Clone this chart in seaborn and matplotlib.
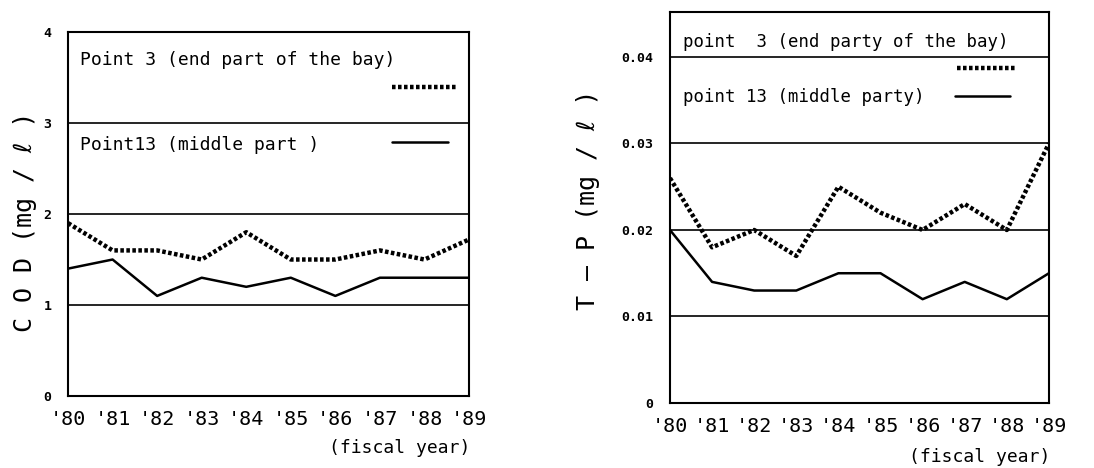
import numpy as np
import pandas as pd
import seaborn as sns
import matplotlib.pyplot as plt
from matplotlib.lines import Line2D

# data
years = ["'80", "'81", "'82", "'83", "'84", "'85", "'86", "'87", "'88", "'89"]
cod_point3 = [1.9, 1.6, 1.6, 1.5, 1.8, 1.5, 1.5, 1.6, 1.5, 1.72]
cod_point13 = [1.4, 1.5, 1.1, 1.3, 1.2, 1.3, 1.1, 1.3, 1.3, 1.3]
tp_point3 = [0.026, 0.018, 0.020, 0.017, 0.025, 0.022, 0.020, 0.023, 0.020, 0.030]
tp_point13 = [0.020, 0.014, 0.013, 0.013, 0.015, 0.015, 0.012, 0.014, 0.012, 0.015]

cod_ticks = [0, 1, 2, 3, 4]
tp_ticks = [0, 0.01, 0.02, 0.03, 0.04]
tp_ticklabels = ['0', '0.01', '0.02', '0.03', '0.04']

sns.set_style("white")
MONO = ['DejaVu Sans Mono', 'DejaVu Sans']
plt.rcParams['font.family'] = MONO
plt.rcParams['text.color'] = 'black'
plt.rcParams['xtick.color'] = 'black'
plt.rcParams['ytick.color'] = 'black'


def long_frame(p3, p13):
    x = np.arange(len(years))
    df = pd.DataFrame({
        'x': np.concatenate([x, x]),
        'value': p3 + p13,
        'series': ['p3'] * len(p3) + ['p13'] * len(p13),
    })
    return df


def draw(ax, df, ylim, ticks, ticklabels, grid_vals):
    sns.lineplot(data=df, x='x', y='value', hue='series', style='series',
                 palette={'p3': 'black', 'p13': 'black'},
                 dashes={'p3': (0.8, 0.55), 'p13': ''},
                 size='series', sizes={'p3': 3.2, 'p13': 1.8},
                 legend=False, ax=ax)
    for g in grid_vals:
        ax.axhline(g, color='black', lw=1.2, zorder=0)
    ax.set_xlim(0, len(years) - 1)
    ax.set_ylim(*ylim)
    ax.set_xticks(range(len(years)))
    ax.set_xticklabels(years, fontsize=14.5, family=MONO)
    ax.set_yticks(ticks)
    ax.set_yticklabels(ticklabels, fontsize=9.5, fontweight='bold', family=MONO)
    ax.tick_params(length=0, axis='x', pad=10)
    ax.tick_params(length=0, axis='y', pad=12)
    ax.set_xlabel('')
    ax.set_ylabel('')
    for s in ax.spines.values():
        s.set_color('black')
        s.set_linewidth(1.5)


def legend_key(ax, x0, x1, y, dotted):
    if dotted:
        ln = Line2D([x0, x1], [y, y], transform=ax.transAxes, color='black',
                    lw=3.2, dashes=(0.8, 0.55))
    else:
        ln = Line2D([x0, x1], [y, y], transform=ax.transAxes, color='black', lw=1.8)
    ax.add_line(ln)


fig = plt.figure(figsize=(10.94, 4.68), dpi=100)
ax1 = fig.add_axes([0.0622, 0.1538, 0.3665, 0.7778])
ax2 = fig.add_axes([0.6124, 0.1389, 0.3464, 0.8355])

# COD panel
draw(ax1, long_frame(cod_point3, cod_point13), (0, 4), cod_ticks,
     [str(t) for t in cod_ticks], [1, 2, 3])
ax1.text(0.03, 0.923, 'Point 3 (end part of the bay)', transform=ax1.transAxes,
         fontsize=13, va='center', family=MONO)
legend_key(ax1, 0.808, 0.968, 0.849, True)
ax1.text(0.03, 0.69, 'Point13 (middle part )', transform=ax1.transAxes,
         fontsize=13, va='center', family=MONO)
legend_key(ax1, 0.808, 0.948, 0.698, False)

# T-P panel
draw(ax2, long_frame(tp_point3, tp_point13), (0, 0.0452), tp_ticks,
     tp_ticklabels, [0.01, 0.02, 0.03, 0.04])
ax2.text(0.034, 0.923, 'point  3 (end party of the bay)', transform=ax2.transAxes,
         fontsize=12.5, va='center', family=MONO)
legend_key(ax2, 0.757, 0.916, 0.857, True)
ax2.text(0.034, 0.783, 'point 13 (middle party)', transform=ax2.transAxes,
         fontsize=12.5, va='center', family=MONO)
legend_key(ax2, 0.752, 0.897, 0.785, False)

# axis titles
fig.text(25 / 1094, 1 - 222 / 468, 'C O D (mg / ℓ )', rotation=90, fontsize=18,
         ha='center', va='center', family=MONO)
fig.text(588 / 1094, 1 - 200 / 468, 'T — P (mg / ℓ )', rotation=90, fontsize=18,
         ha='center', va='center', family=MONO)
fig.text(470 / 1094, 1 - 448 / 468, '(fiscal year)', fontsize=13,
         ha='right', va='center', family=MONO)
fig.text(1050 / 1094, 1 - 457 / 468, '(fiscal year)', fontsize=13,
         ha='right', va='center', family=MONO)

fig.savefig('out.png', dpi=100, facecolor='white')
